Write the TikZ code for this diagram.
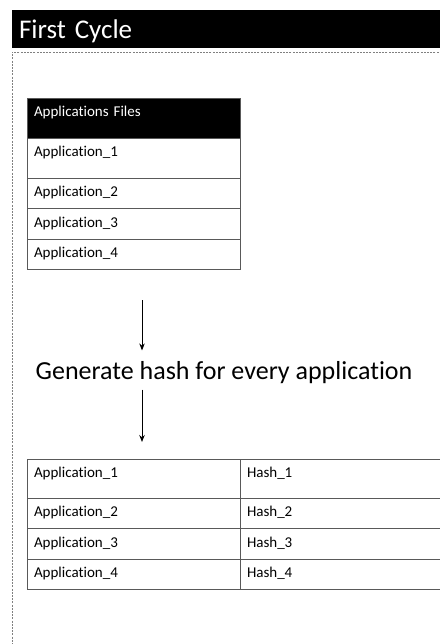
\documentclass[tikz,border=0pt]{standalone}
\usepackage{fontspec}
\setmainfont{Carlito}[Ligatures=NoCommon]
\usetikzlibrary{positioning,arrows.meta}

\begin{document}
\begin{tikzpicture}[x=1pt,y=-1pt,
    cell/.style={draw=black!65, line width=0.8pt, anchor=north west, inner xsep=7pt, inner ysep=0pt, outer sep=0pt,
        align=left, text width=199pt, text height=18.5pt, font=\fontsize{15}{18}\selectfont},
    rowtall/.style={cell, text depth=21.5pt},
    rowmid/.style={cell, text depth=20.5pt},
    rowlow/.style={cell, text depth=12pt},
    hashcol/.style={text width=191pt},
    flow/.style={-{Stealth[length=7pt,width=5.5pt]}, line width=1pt}]
    \useasboundingbox (0,0) rectangle (439,644);
    \draw[black!50, dash pattern=on 2pt off 1.2pt, line width=0.7pt] (445,52) -| (12,650);
    \node[anchor=north west, fill=black, text=white, inner xsep=7pt, inner ysep=0pt, outer sep=0pt, text width=420pt,
        align=left, text height=29pt, text depth=9pt, font=\fontsize{27}{32}\selectfont] (title) at (12,10) {First Cycle};

    \node[rowtall, fill=black, text=white] (files) at (27,98) {Applications Files};
    \node[rowtall, below=0pt of files] (app1) {Application\_1};
    \node[rowlow, below=0pt of app1] (app2) {Application\_2};
    \node[rowlow, below=0pt of app2] (app3) {Application\_3};
    \node[rowlow, below=0pt of app3] (app4) {Application\_4};

    \node[anchor=base, font=\fontsize{26}{31}\selectfont] (gen) at (224,379) {Generate hash for every application};
    \coordinate (down) at (142,300);

    \node[rowmid] (pair1) at (27,459) {Application\_1};
    \node[rowlow, below=0pt of pair1] (pair2) {Application\_2};
    \node[rowlow, below=0pt of pair2] (pair3) {Application\_3};
    \node[rowlow, below=0pt of pair3] (pair4) {Application\_4};
    \node[rowmid, hashcol, right=0pt of pair1] (hash1) {Hash\_1};
    \node[rowlow, hashcol, right=0pt of pair2] (hash2) {Hash\_2};
    \node[rowlow, hashcol, right=0pt of pair3] (hash3) {Hash\_3};
    \node[rowlow, hashcol, right=0pt of pair4] (hash4) {Hash\_4};

    \draw[flow] (down) -- ([yshift=7pt]gen.north -| down);
    \draw[flow] ([yshift=-3pt]gen.south -| down) -- ([yshift=17pt]pair1.north -| down);
\end{tikzpicture}
\end{document}
